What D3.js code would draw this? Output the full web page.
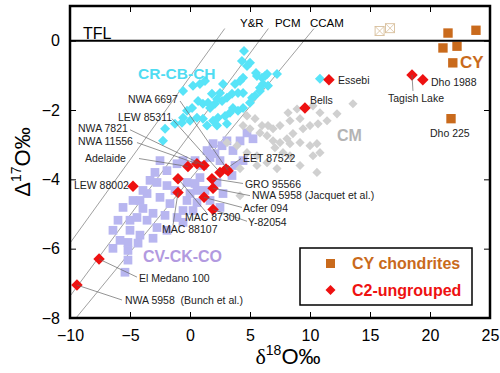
<!DOCTYPE html>
<html>
<head>
<meta charset="utf-8">
<script src="https://cdn.jsdelivr.net/npm/d3@7/dist/d3.min.js"></script>
<style>
  body { margin: 0; background: #fff; }
  text { font-family: "Liberation Sans", Arial, sans-serif; }
</style>
</head>
<body>
<div class="canvas"></div>
<script>
// axis ticks
const xTicks = [-10, -5, 0, 5, 10, 15, 20, 25];
const yTicks = [-8, -6, -4, -2, 0];

// reference lines: Delta17O = slope * d18O + icpt
const refNames = ['Y&R', 'PCM', 'CCAM'];
const refSlopes = [0.48, 0.467, 0.421];
const refIcpts = [-1.04, -2.70, -4.00];

// CY chondrites (d18O, D17O)
const cyPoints = [[21.5, 0.22], [23.83, 0.30], [21.08, -0.21], [22.25, -0.16], [21.9, -0.64], [21.75, -2.25]];
const cyOpen = [[15.8, 0.28], [16.67, 0.36]];

// C2-ungrouped
const c2Names = ['NWA 5958 B', 'El Medano 100', 'LEW 88002', 'Adelaide', 'NWA 11556', 'NWA 7821',
  'LEW 85311', 'NWA 6697', 'EET 87522', 'MAC 87300', 'GRO 95566', 'MAC 88107', 'NWA 5958 J',
  'Acfer 094', 'Y-82054', 'Essebi', 'Bells', 'Tagish Lake', 'Dho 1988'];
const c2Points = [[-9.42, -7.05], [-7.58, -6.30], [-4.75, -4.20], [-0.17, -3.63], [0.58, -3.55], [1.17, -3.60],
  [2.5, -3.80], [3.17, -3.75], [3.0, -3.70], [-1.0, -3.98], [1.83, -3.98], [-1.0, -4.38], [1.92, -4.26],
  [1.17, -4.52], [1.92, -4.87], [11.58, -1.13], [9.58, -1.94], [18.5, -0.99], [19.4, -1.13]];

// CR-CB-CH
const crPoints = [[1.83, -1.53], [2.25, -1.68], [2.5, -1.51], [1.5, -1.79], [2.08, -1.82], [2.67, -1.74],
  [3.08, -1.65], [3.5, -1.53], [4.0, -1.51], [3.75, -1.25], [4.17, -1.16], [4.42, -1.07], [4.33, -0.59],
  [4.75, -0.73], [5.0, -0.64], [5.58, -1.02], [6.0, -1.07], [6.42, -0.96], [6.08, -1.25], [6.5, -1.30],
  [5.83, -1.45], [5.42, -1.59], [5.0, -1.79], [4.42, -1.94], [4.0, -2.02], [3.58, -1.94], [3.33, -2.08],
  [2.92, -2.17], [2.33, -2.22], [1.92, -2.31], [1.67, -1.94], [1.08, -1.82], [0.67, -1.74], [0.17, -1.94],
  [-0.25, -2.02], [-0.58, -2.22], [-0.67, -2.37], [0, -2.31], [0.58, -2.22], [1.08, -2.25], [1.42, -2.45],
  [2.25, -2.45], [3.08, -2.40], [0.83, -1.25], [0.25, -1.30], [2.75, -1.25], [-0.58, -1.45], [1.25, -1.16],
  [-2.25, -2.89], [-2.08, -2.54], [-1.25, -2.40], [4.5, -0.30], [5.5, -0.93], [6.25, -1.02], [7.25, -0.96],
  [4.42, -1.51], [5.17, -1.65], [5.83, -1.36], [10.83, -1.10]];

// CM
const cmPoints = [[4.75, -2.17], [5.42, -2.25], [6.0, -2.45], [6.5, -2.45], [6.92, -2.54], [7.5, -2.45],
  [8.17, -2.08], [8.92, -1.97], [8.33, -2.31], [9.17, -2.25], [10.0, -2.45], [10.67, -2.40], [10.83, -2.08],
  [10.25, -1.88], [9.42, -2.54], [8.58, -2.68], [8.08, -2.83], [7.5, -2.94], [6.92, -2.89], [6.42, -2.74],
  [5.83, -2.66], [5.0, -2.54], [4.42, -2.45], [8.33, -2.97], [9.17, -2.94], [10.0, -3.03], [10.58, -2.97],
  [10.83, -3.23], [10.25, -3.32], [8.33, -3.32], [7.75, -3.23], [7.08, -3.09], [6.42, -3.52], [5.58, -3.32],
  [4.75, -3.23], [3.92, -3.03], [3.08, -2.94], [4.17, -3.69], [5.58, -3.60], [7.25, -3.69], [13.58, -1.82],
  [12.25, -2.11], [11.42, -2.31], [10.58, -3.80], [9.17, -3.60], [4.17, -4.47]];

// CV-CK-CO
const cvPoints = [[-1.08, -3.55], [-0.58, -3.46], [1.42, -3.17], [2.08, -3.26], [1.92, -2.97], [2.67, -3.03],
  [3.08, -2.89], [2.5, -3.46], [-2.92, -3.80], [-1.92, -3.75], [-2.75, -4.09], [-1.92, -4.18], [-0.25, -4.09],
  [0.42, -4.12], [0.83, -3.95], [0.58, -4.32], [0, -4.41], [-0.25, -4.61], [0.58, -4.67], [0.25, -4.90],
  [-0.58, -4.90], [-1.67, -4.70], [-2.5, -4.52], [-3.58, -4.41], [-4.17, -4.61], [-3.92, -4.84], [-3.08, -4.98],
  [-2.08, -5.04], [-1.08, -5.10], [-4.42, -5.10], [1.67, -4.61], [2.5, -4.81], [2.75, -4.41], [2.25, -4.09],
  [-3.92, -4.32], [-4.75, -4.61], [-3.58, -5.18], [-2.75, -5.39], [-5.58, -4.81], [-6.0, -5.18], [-6.42, -5.47],
  [-5.0, -5.47], [-4.17, -5.61], [-3.08, -5.70], [-1.92, -5.47], [-5.0, -5.18], [-6.42, -5.99], [-5.17, -5.82],
  [-4.33, -5.84], [-5.17, -6.05], [-5.17, -6.33], [-5.42, -6.68], [3.58, -3.17], [4.17, -2.89], [4.75, -2.66],
  [5.25, -2.83], [4.42, -3.46], [1.08, -3.60], [1.67, -3.37], [3.75, -3.60], [0.42, -3.46], [-1.25, -4.32],
  [1.25, -4.32], [-0.58, -5.24], [3.5, -3.89], [-2.5, -3.46], [-3.33, -4.03], [-5.83, -5.76]];

// meteorite labels: text, anchor (d18O, D17O)
const labelTexts = ['NWA 6697', 'LEW 85311', 'NWA 7821', 'NWA 11556', 'Adelaide', 'LEW 88002',
  'EET 87522', 'GRO 95566', 'NWA 5958 (Jacquet et al.)', 'Acfer 094', 'Y-82054', 'MAC 87300', 'MAC 88107',
  'El Medano 100', 'NWA 5958  (Bunch et al.)', 'Essebi', 'Bells', 'Tagish Lake', 'Dho 1988', 'Dho 225'];
const labelPos = [[-5.17, -1.79], [-6.0, -2.31], [-9.33, -2.63], [-9.33, -3.0], [-8.75, -3.49], [-9.67, -4.29],
  [4.42, -3.49], [4.58, -4.24], [5.17, -4.58], [4.42, -4.95], [4.83, -5.36], [-0.42, -5.21], [-2.33, -5.56],
  [-4.25, -6.97], [-5.42, -7.60], [12.33, -1.25], [10.0, -1.82], [16.5, -1.76], [20.08, -1.30], [20.0, -2.77]];

// leader lines: c2 point name -> label end
const leaderNames = ['NWA 6697', 'LEW 85311', 'NWA 7821', 'NWA 11556', 'Adelaide', 'EET 87522', 'GRO 95566',
  'NWA 5958 J', 'Acfer 094', 'Y-82054', 'MAC 87300', 'MAC 88107', 'El Medano 100', 'NWA 5958 B', 'Tagish Lake'];
const leaderEnds = [[-0.83, -1.74], [-1.5, -2.25], [-5.0, -2.57], [-4.42, -2.94], [-4.25, -3.40], [4.25, -3.40],
  [4.42, -4.12], [5.0, -4.47], [4.33, -4.81], [4.75, -5.21], [1.42, -4.98], [-1.42, -5.33], [-4.42, -6.82],
  [-5.67, -7.48], [18.58, -1.45]];

// svg
const width = 500, height = 373;
const margin = {top: 6, right: 10, bottom: 55, left: 70};

const svg = d3.select('.canvas')
  .append('svg')
    .attr('width', width)
    .attr('height', height);

const x = d3.scaleLinear().domain([-10, 25]).range([margin.left, width - margin.right]);
const y = d3.scaleLinear().domain([-8, 1]).range([height - margin.bottom, margin.top]);

svg.append('clipPath').attr('id', 'plot')
  .append('rect')
    .attr('x', x(-10)).attr('y', y(1))
    .attr('width', x(25) - x(-10)).attr('height', y(-8) - y(1));

// reference lines
const refG = svg.append('g').attr('clip-path', 'url(#plot)');
refSlopes.forEach((m, i) => {
  const b = refIcpts[i];
  const x0 = Math.max(-10, (-8 - b) / m);
  const x1 = (0.35 - b) / m;
  refG.append('line')
    .attr('x1', x(x0)).attr('y1', y(m * x0 + b))
    .attr('x2', x(x1)).attr('y2', y(m * x1 + b))
    .attr('stroke', '#777')
    .attr('stroke-width', 0.7);
});

const diamond = (g, data, size, fill) => {
  g.selectAll(null)
    .data(data)
    .enter()
    .append('path')
      .attr('d', d3.symbol().type(d3.symbolSquare).size(size))
      .attr('transform', d => `translate(${x(d[0])},${y(d[1])}) rotate(45)`)
      .attr('fill', fill);
};

const square = (g, data, size, fill) => {
  g.selectAll(null)
    .data(data)
    .enter()
    .append('path')
      .attr('d', d3.symbol().type(d3.symbolSquare).size(size))
      .attr('transform', d => `translate(${x(d[0])},${y(d[1])})`)
      .attr('fill', fill);
};

const marks = svg.append('g');
square(marks, cvPoints, 76, '#b8b6f0');
diamond(marks, cmPoints, 42, '#d0d0d0');
diamond(marks, crPoints, 50, '#58e4f8');

// leader lines
const leaders = svg.append('g');
leaderNames.forEach((n, i) => {
  const p = c2Points[c2Names.indexOf(n)];
  leaders.append('line')
    .attr('x1', x(p[0])).attr('y1', y(p[1]))
    .attr('x2', x(leaderEnds[i][0])).attr('y2', y(leaderEnds[i][1]))
    .attr('stroke', '#666')
    .attr('stroke-width', 0.7);
});

diamond(marks.append('g'), c2Points, 66, '#ee1111');
square(marks.append('g'), cyPoints, 88, '#c96a1c');

// open CY symbols
const open = svg.append('g');
cyOpen.forEach(d => {
  const cx = x(d[0]), cy = y(d[1]), h = 4.5;
  open.append('rect')
    .attr('x', cx - h).attr('y', cy - h).attr('width', 2 * h).attr('height', 2 * h)
    .attr('fill', 'none').attr('stroke', '#d8bf9c').attr('stroke-width', 0.9);
  open.append('path')
    .attr('d', `M${cx - h},${cy - h}L${cx + h},${cy + h}M${cx + h},${cy - h}L${cx - h},${cy + h}`)
    .attr('stroke', '#d8bf9c').attr('stroke-width', 0.8);
});

// labels
svg.append('g').selectAll('text')
  .data(labelTexts)
  .enter()
  .append('text')
    .attr('x', (d, i) => x(labelPos[i][0]))
    .attr('y', (d, i) => y(labelPos[i][1]))
    .attr('font-size', '10.5px')
    .attr('fill', '#222')
    .style('white-space', 'pre')
    .text(d => d);

// group names
const groupText = (t, px, py, size, color, weight) => {
  svg.append('text')
    .attr('x', x(px)).attr('y', y(py))
    .attr('font-size', size)
    .attr('font-weight', weight)
    .attr('fill', color)
    .text(t);
};
groupText('CR-CB-CH', -4.33, -1.12, '15.5px', '#4fdcf2', 'bold');
groupText('CM', 12.25, -2.89, '16px', '#b4b4b4', 'bold');
groupText('CV-CK-CO', -3.92, -6.39, '16px', '#b29ae0', 'bold');
groupText('CY', 22.5, -0.79, '17px', '#c96a1c', 'bold');
groupText('TFL', -8.92, 0.05, '16px', '#000', 'normal');
refNames.forEach((n, i) => {
  groupText(n, [4.17, 7.08, 10.0][i], 0.39, '11.5px', '#000', 'normal');
});

// TFL line
svg.append('line')
  .attr('x1', x(-10)).attr('x2', x(25))
  .attr('y1', y(0)).attr('y2', y(0))
  .attr('stroke', '#000')
  .attr('stroke-width', 2);

// axes (ticks inward)
const xAxis = d3.axisBottom(x).tickValues(xTicks).tickSizeInner(-6).tickSizeOuter(0).tickPadding(12);
const yAxis = d3.axisLeft(y).tickValues(yTicks).tickSizeInner(-6).tickSizeOuter(0).tickPadding(10);
const xTop = d3.axisTop(x).tickValues(xTicks).tickSizeInner(-6).tickSizeOuter(0).tickFormat('');
const yRight = d3.axisRight(y).tickValues(yTicks).tickSizeInner(-6).tickSizeOuter(0).tickFormat('');

const xAxisGroup = svg.append('g').attr('transform', `translate(0, ${y(-8)})`).call(xAxis);
const yAxisGroup = svg.append('g').attr('transform', `translate(${x(-10)}, 0)`).call(yAxis);
svg.append('g').attr('transform', `translate(0, ${y(1)})`).call(xTop);
svg.append('g').attr('transform', `translate(${x(25)}, 0)`).call(yRight);

svg.selectAll('.domain').remove();
svg.selectAll('.tick line').attr('stroke', '#000').attr('stroke-width', 1);
[xAxisGroup, yAxisGroup].forEach(g => g.selectAll('text')
  .attr('font-family', '"Liberation Sans", Arial, sans-serif')
  .attr('font-size', '16px')
  .attr('fill', '#000'));

// frame
svg.append('rect')
  .attr('x', x(-10)).attr('y', y(1))
  .attr('width', x(25) - x(-10)).attr('height', y(-8) - y(1))
  .attr('fill', 'none')
  .attr('stroke', '#000')
  .attr('stroke-width', 2.5);

// axis titles
const xt = svg.append('text')
  .attr('x', (x(-10) + x(25)) / 2 + 8)
  .attr('y', 364)
  .attr('text-anchor', 'middle')
  .attr('font-size', '22px');
xt.append('tspan').attr('font-family', '"Liberation Serif", serif').text('δ');
xt.append('tspan').attr('font-size', '14px').attr('dy', -9).text('18');
xt.append('tspan').attr('dy', 9).text('O‰');

const yt = svg.append('text')
  .attr('transform', `translate(30, ${(y(1) + y(-8)) / 2}) rotate(-90)`)
  .attr('text-anchor', 'middle')
  .attr('font-size', '22px');
yt.append('tspan').text('Δ');
yt.append('tspan').attr('font-size', '14px').attr('dy', -9).text('17');
yt.append('tspan').attr('dy', 9).text('O‰');

// legend
const legend = svg.append('g');
legend.append('rect')
  .attr('x', 300).attr('y', 248)
  .attr('width', 172).attr('height', 57)
  .attr('fill', '#fff')
  .attr('stroke', '#000')
  .attr('stroke-width', 1.5);
legend.append('rect')
  .attr('x', 326).attr('y', 259).attr('width', 9).attr('height', 9)
  .attr('fill', '#c96a1c');
legend.append('path')
  .attr('d', d3.symbol().type(d3.symbolSquare).size(50))
  .attr('transform', 'translate(330.5, 290) rotate(45)')
  .attr('fill', '#ee1111');
legend.append('text')
  .attr('x', 352).attr('y', 269)
  .attr('font-size', '16px').attr('font-weight', 'bold')
  .attr('fill', '#c96a1c')
  .text('CY chondrites');
legend.append('text')
  .attr('x', 352).attr('y', 296)
  .attr('font-size', '16px').attr('font-weight', 'bold')
  .attr('fill', '#ee1111')
  .text('C2-ungrouped');
</script>
</body>
</html>
